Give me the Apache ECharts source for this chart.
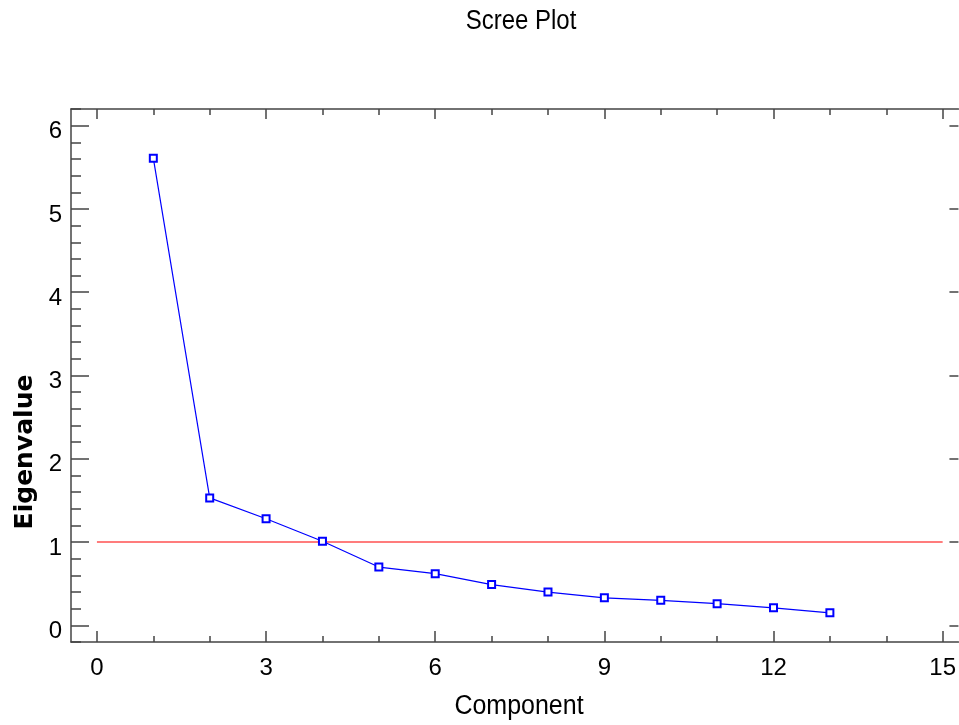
<!DOCTYPE html>
<html>
<head>
<meta charset="utf-8">
<script src="https://cdn.jsdelivr.net/npm/echarts@6.0.0/dist/echarts.min.js"></script>
<style>
  html, body { margin: 0; padding: 0; background: #fff; }
  #main { width: 959px; height: 725px; }
</style>
</head>
<body>
<div id="main"></div>
<script>
var dom = document.getElementById('main');
var myChart = echarts.init(dom, null, { renderer: 'canvas' });

// data
var components = [1, 2, 3, 4, 5, 6, 7, 8, 9, 10, 11, 12, 13];
var eigenvalues = [5.61, 1.53, 1.28, 1.01, 0.70, 0.62, 0.49, 0.40, 0.33, 0.30, 0.26, 0.21, 0.15];
var cutoffLine = [[0, 1], [15, 1]];
var xMajorTicks = [0, 3, 6, 9, 12, 15];
var xMinorTicks = [1, 2, 4, 5, 7, 8, 10, 11, 13, 14];
var yMajorTicks = [0, 1, 2, 3, 4, 5, 6];
var yMinorTicks = [-0.2, 0.2, 0.4, 0.6, 0.8, 1.2, 1.4, 1.6, 1.8, 2.2, 2.4, 2.6, 2.8,
    3.2, 3.4, 3.6, 3.8, 4.2, 4.4, 4.6, 4.8, 5.2, 5.4, 5.6, 5.8, 6.2];

var lineCol = '#444';
var sans = '"Liberation Sans", Arial, sans-serif';

function xAx(pos, ticks, len, labels, showLine) {
    return {
        type: 'value', position: pos, min: -0.46, max: 15.28,
        axisLine: { show: showLine, onZero: false, lineStyle: { color: lineCol, width: 1.5 } },
        axisTick: { show: true, inside: true, length: len, customValues: ticks,
            lineStyle: { color: lineCol, width: 1.5 } },
        axisLabel: labels ? { show: true, customValues: xMajorTicks, margin: 14,
            color: '#000', fontFamily: sans, fontSize: 24 } : { show: false },
        splitLine: { show: false }
    };
}
function yAx(pos, ticks, len, labels, showLine) {
    return {
        type: 'value', position: pos, min: -0.2, max: 6.2,
        axisLine: { show: showLine, onZero: false, lineStyle: { color: lineCol, width: 1.5 } },
        axisTick: { show: ticks.length > 0, inside: true, length: len, customValues: ticks,
            lineStyle: { color: lineCol, width: 1.5 } },
        axisLabel: labels ? { show: true, customValues: yMajorTicks, margin: 9,
            color: '#000', fontFamily: sans, fontSize: 24,
            verticalAlign: 'top', lineHeight: 12 } : { show: false },
        splitLine: { show: false }
    };
}

var option = {
    animation: false,
    backgroundColor: '#fff',
    grid: { left: 71, top: 109, bottom: 83, right: 0, containLabel: false },
    xAxis: [
        xAx('bottom', xMajorTicks, 11, true, true),
        xAx('bottom', xMinorTicks, 6, false, false),
        xAx('top', xMajorTicks, 10, false, true),
        xAx('top', xMinorTicks, 6, false, false)
    ],
    yAxis: [
        yAx('left', yMajorTicks, 18, true, true),
        yAx('left', yMinorTicks, 10, false, false),
        yAx('right', yMajorTicks, 9, false, false)
    ],
    graphic: [
        {
            type: 'text', x: 521, y: 21, scaleY: 1.16,
            style: {
                text: 'Scree Plot', fill: '#000', align: 'center', verticalAlign: 'middle',
                font: '24px ' + sans
            }
        },
        {
            type: 'text', x: 25, y: 452, rotation: Math.PI / 2,
            style: {
                text: 'Eigenvalue', fill: '#000', align: 'center', verticalAlign: 'middle',
                font: 'bold 25px "DejaVu Sans", sans-serif'
            }
        },
        {
            type: 'text', x: 519, y: 707, scaleY: 1.08,
            style: {
                text: 'Component', fill: '#000', align: 'center', verticalAlign: 'middle',
                font: '25px ' + sans
            }
        }
    ],
    series: [
        {
            type: 'line', data: cutoffLine, symbol: 'none', silent: true,
            lineStyle: { color: '#ff5050', width: 1.5 }
        },
        {
            type: 'line',
            data: components.map(function (c, k) { return [c, eigenvalues[k]]; }),
            symbol: 'emptyRect', symbolSize: 7,
            itemStyle: { color: '#0000ff', borderWidth: 1 },
            lineStyle: { color: '#0000ff', width: 1.2 }
        }
    ]
};
myChart.setOption(option);
window.addEventListener('resize', myChart.resize);
</script>
</body>
</html>
